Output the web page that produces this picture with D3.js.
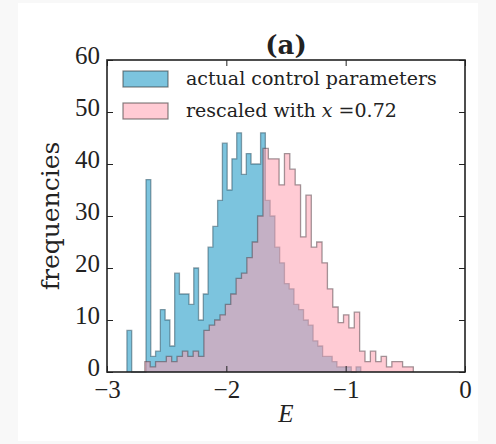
<!DOCTYPE html>
<html>
<head>
<meta charset="utf-8">
<script src="https://cdn.jsdelivr.net/npm/d3@7"></script>
<style>
  body { margin: 0; background: #f8f8f8; }
  svg { display: block; }
</style>
</head>
<body>
<div id="chart"></div>
<script>
// histogram counts
var blueStart = -2.833, blueWidth = 0.04;
var blueCounts = [8, 0, 0, 0, 37, 3, 4, 12, 10, 5, 19, 15, 15, 13, 20, 10, 15, 24, 28, 33,
                  44, 35, 41, 46, 38, 42, 40, 40, 46, 33, 30, 24, 21, 17, 16, 13, 12, 10, 9, 6,
                  5, 3, 3, 2, 1, 1, 1, 0, 1];
var pinkStart = -2.683, pinkWidth = 0.045;
var pinkCounts = [2, 1, 2, 2, 3, 2, 3, 4, 3, 4, 3, 8, 9, 10, 11, 13, 15, 18, 19, 22,
                  25, 30, 43, 41, 41, 36, 42, 39, 36, 26, 34, 24, 25, 21, 16, 12.5, 9.5, 11, 8.5, 11.5,
                  4, 2, 4, 2, 3, 1, 2, 2, 1, 1];
var xTicks = [-3, -2, -1, 0];
var yTicks = [0, 10, 20, 30, 40, 50, 60];
var legendLabels = ["actual control parameters", "rescaled with "];

var width = 496, height = 444;
var margin = {top: 60, left: 107, right: 30, bottom: 72};

var svg = d3.select("#chart").append("svg")
    .attr("width", width)
    .attr("height", height);

svg.append("rect")
    .attr("x", 18).attr("y", 3)
    .attr("width", 460).attr("height", 438)
    .attr("fill", "#fff");

var x = d3.scaleLinear().domain([-3, 0]).range([margin.left, width - margin.right - 1]);
var y = d3.scaleLinear().domain([0, 60]).range([height - margin.bottom, margin.top]);

function binPoints(start, w, counts) {
    var pts = [[start, 0]];
    counts.forEach(function(c, i) {
        pts.push([start + i * w, c]);
    });
    pts.push([start + counts.length * w, counts[counts.length - 1]]);
    pts.push([start + counts.length * w, 0]);
    return pts;
}

var area = d3.area()
    .x(function(d) { return x(d[0]); })
    .y0(y(0))
    .y1(function(d) { return y(d[1]); })
    .curve(d3.curveStepAfter);

var line = d3.line()
    .x(function(d) { return x(d[0]); })
    .y(function(d) { return y(d[1]); })
    .curve(d3.curveStepAfter);

var bluePts = binPoints(blueStart, blueWidth, blueCounts);
var pinkPts = binPoints(pinkStart, pinkWidth, pinkCounts);

var blueFill = "rgb(124,196,222)", pinkFill = "rgb(255,160,176)", pinkAlpha = 0.55;

svg.append("path").attr("d", area(bluePts)).attr("fill", blueFill);
svg.append("path").attr("d", line(bluePts)).attr("fill", "none")
    .attr("stroke", "#2a4a5a").attr("stroke-opacity", 0.5).attr("stroke-width", 1.3);

svg.append("path").attr("d", area(pinkPts)).attr("fill", pinkFill).attr("fill-opacity", pinkAlpha);
svg.append("path").attr("d", line(pinkPts)).attr("fill", "none")
    .attr("stroke", "#4a3a40").attr("stroke-opacity", 0.5).attr("stroke-width", 1.3);

// axes, ticks pointing inwards on all four sides
var serif = "'Liberation Serif', 'DejaVu Serif', serif";
var wide = "'DejaVu Serif', serif";
var x0 = x(-3), x1 = x(0), y0 = y(0), y1 = y(60);

svg.append("g").attr("transform", "translate(0," + y0 + ")")
    .call(d3.axisBottom(x).tickValues(xTicks).tickSizeInner(-6).tickSizeOuter(0).tickPadding(8)
        .tickFormat(function(d) { return d === 0 ? "0" : "\u2212" + Math.abs(d); }))
    .call(function(g) {
        g.select(".domain").remove();
        g.selectAll("text").attr("font-family", serif).attr("font-size", 25).attr("fill", "#222");
    });
svg.append("g").attr("transform", "translate(0," + y1 + ")")
    .call(d3.axisTop(x).tickValues(xTicks).tickSizeInner(-6).tickSizeOuter(0).tickFormat(""))
    .call(function(g) { g.select(".domain").remove(); });
svg.append("g").attr("transform", "translate(" + x0 + ",0)")
    .call(d3.axisLeft(y).tickValues(yTicks).tickSizeInner(-6).tickSizeOuter(0).tickPadding(7))
    .call(function(g) {
        g.select(".domain").remove();
        g.selectAll("text").attr("font-family", serif).attr("font-size", 25).attr("fill", "#222")
            .attr("dy", "0.15em");
    });
svg.append("g").attr("transform", "translate(" + x1 + ",0)")
    .call(d3.axisRight(y).tickValues(yTicks).tickSizeInner(-6).tickSizeOuter(0).tickFormat(""))
    .call(function(g) { g.select(".domain").remove(); });

svg.selectAll(".tick line").attr("stroke", "#222").attr("stroke-width", 1);

svg.append("rect")
    .attr("x", x0).attr("y", y1)
    .attr("width", x1 - x0).attr("height", y0 - y1)
    .attr("fill", "none").attr("stroke", "#222").attr("stroke-width", 1.6);

// legend
var legend = svg.append("g");
var patchColors = [[blueFill, 1], [pinkFill, pinkAlpha]];
legendLabels.forEach(function(lab, i) {
    var ly = 71 + i * 32;
    legend.append("rect")
        .attr("x", 123).attr("y", ly).attr("width", 45).attr("height", 16)
        .attr("fill", patchColors[i][0]).attr("fill-opacity", patchColors[i][1])
        .attr("stroke", "#333").attr("stroke-opacity", 0.6).attr("stroke-width", 1.2);
    var t = legend.append("text")
        .attr("x", 186).attr("y", ly + 14)
        .attr("font-family", wide).attr("font-size", 19).attr("fill", "#222")
        .text(lab);
    if (i === 1) {
        t.append("tspan").attr("font-style", "italic").text("x");
        t.append("tspan").text(" =0.72");
    }
});

// titles
svg.append("text")
    .attr("x", (x0 + x1) / 2).attr("y", 54)
    .attr("text-anchor", "middle")
    .attr("font-family", wide).attr("font-size", 26).attr("font-weight", "bold").attr("fill", "#222")
    .text("(a)");

svg.append("text")
    .attr("transform", "translate(59," + (y0 + y1) / 2 + ") rotate(-90)")
    .attr("text-anchor", "middle")
    .attr("font-family", wide).attr("font-size", 25).attr("fill", "#222")
    .text("frequencies");

svg.append("text")
    .attr("x", (x0 + x1) / 2).attr("y", 422)
    .attr("text-anchor", "middle")
    .attr("font-family", serif).attr("font-size", 25).attr("font-style", "italic").attr("fill", "#222")
    .text("E");
</script>
</body>
</html>
